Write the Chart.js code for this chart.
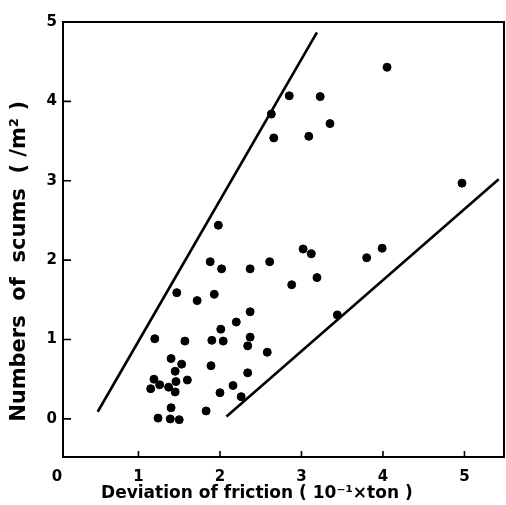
<!DOCTYPE html>
<html><head><meta charset="utf-8">
<script src="https://cdn.jsdelivr.net/npm/chart.js@4.4.1/dist/chart.umd.min.js"></script>
<style>html,body{margin:0;padding:0;background:#fff;overflow:hidden}canvas{display:block}</style>
</head><body>
<canvas id="c" width="506" height="505"></canvas>
<script>
// Scatter data: deviation of friction (10^-1 x ton) vs numbers of scums (/m2)
const deviationX = [1.20,1.57,1.40,1.53,1.45,1.19,1.46,1.60,1.26,1.15,1.37,1.45,1.40,1.24,1.39,1.50,1.83,
  1.98,1.88,2.02,2.37,2.61,2.88,1.93,1.72,2.37,2.20,2.01,1.90,2.04,2.37,2.34,2.58,1.89,2.34,2.16,2.00,2.26,
  4.05,2.85,3.23,2.63,3.35,2.66,3.09,4.97,3.02,3.12,3.19,3.80,3.99,3.44,1.47];
const scumsY = [1.01,0.98,0.76,0.69,0.60,0.50,0.47,0.49,0.43,0.38,0.40,0.34,0.14,0.01,0.00,-0.01,0.10,
  2.44,1.98,1.89,1.89,1.98,1.69,1.57,1.49,1.35,1.22,1.13,0.99,0.98,1.03,0.92,0.84,0.67,0.58,0.42,0.33,0.28,
  4.43,4.07,4.06,3.84,3.72,3.54,3.56,2.97,2.14,2.08,1.78,2.03,2.15,1.31,1.59];
// Envelope lines
const upperLineX = [0.50, 3.19];
const upperLineY = [0.09, 4.87];
const lowerLineX = [2.08, 5.42];
const lowerLineY = [0.03, 3.02];
// Axis ticks
const xTicks = [0,1,2,3,4,5];
const yTicks = [0,1,2,3,4,5];
const xMarks = [1,2,3,4,5];
const yMarks = [0,1,2,3,4];

const pts = deviationX.map((x,i)=>({x:x, y:scumsY[i]}));
const up = upperLineX.map((x,i)=>({x:x, y:upperLineY[i]}));
const lo = lowerLineX.map((x,i)=>({x:x, y:lowerLineY[i]}));

const framePlugin = {
  id:'frame',
  afterDraw(chart){
    const {ctx, chartArea:a, scales:{x, y}} = chart;
    ctx.save();
    ctx.strokeStyle = '#000';
    ctx.lineWidth = 2;
    ctx.strokeRect(a.left, a.top, a.right - a.left, a.bottom - a.top);
    ctx.lineWidth = 1.6;
    ctx.beginPath();
    yMarks.forEach(v=>{ const py = y.getPixelForValue(v); ctx.moveTo(a.left, py); ctx.lineTo(a.left + 8, py); });
    xMarks.forEach(v=>{ const px = x.getPixelForValue(v); ctx.moveTo(px, a.bottom); ctx.lineTo(px, a.bottom - 6); });
    ctx.stroke();
    ctx.restore();
  }
};

const tickFont = {family:'DejaVu Sans', weight:'bold', size:15};
const noSidePad = s => { s.paddingLeft = 0; s.paddingRight = 0; };

new Chart(document.getElementById('c'), {
  type:'scatter',
  data:{datasets:[
    {data:pts, backgroundColor:'#000', borderColor:'#000', pointRadius:4, pointHoverRadius:4},
    {data:up, showLine:true, borderColor:'#000', borderWidth:2.6, pointRadius:0},
    {data:lo, showLine:true, borderColor:'#000', borderWidth:2.6, pointRadius:0}
  ]},
  options:{
    responsive:false, animation:false, devicePixelRatio:1,
    layout:{autoPadding:false, padding:{top:22, right:2, left:0, bottom:0}},
    plugins:{legend:{display:false}, tooltip:{enabled:false}},
    scales:{
      x:{type:'linear', min:0.074, max:5.485,
        afterBuildTicks(s){ s.ticks = xTicks.map(v=>({value:v})); },
        afterFit(s){ s.height = 48; noSidePad(s); },
        afterUpdate: noSidePad,
        grid:{display:false, drawTicks:false},
        border:{display:false},
        ticks:{autoSkip:false, padding:11, color:'#000', font:tickFont, maxRotation:0},
        title:{display:true, text:'Deviation of friction ( 10⁻¹×ton )         ', color:'#000',
          font:{family:'DejaVu Sans', weight:'bold', size:17}, padding:{top:0, bottom:1}}
      },
      y:{type:'linear', min:-0.48, max:5,
        afterBuildTicks(s){ s.ticks = yTicks.map(v=>({value:v})); },
        afterFit(s){ s.width = 63; },
        grid:{display:false, drawTicks:false},
        border:{display:false},
        ticks:{autoSkip:false, padding:6, color:'#000', font:tickFont},
        title:{display:true, text:'Numbers  of  scums  ( /m² )      ', color:'#000',
          font:{family:'DejaVu Sans', weight:'bold', size:21}, padding:{top:7, bottom:0}}
      }
    }
  },
  plugins:[framePlugin]
});
</script>
</body></html>
